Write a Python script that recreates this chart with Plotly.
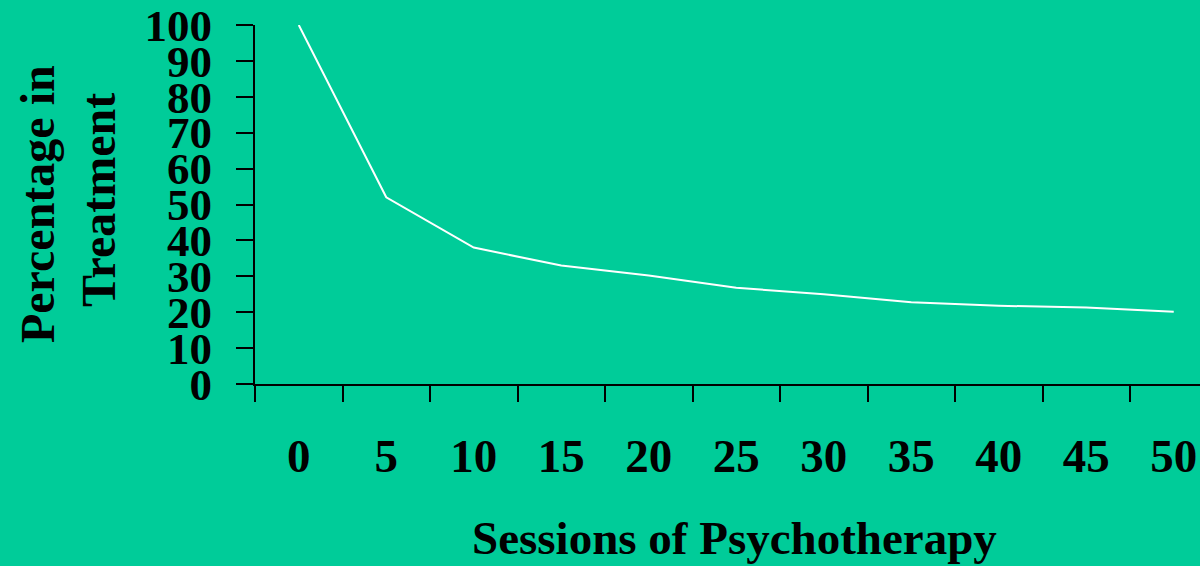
import plotly.graph_objects as go

sessions = ["0", "5", "10", "15", "20", "25", "30", "35", "40", "45", "50"]
pct_in_treatment = [100, 52, 38, 33, 30.2, 26.8, 25.0, 22.8, 21.8, 21.3, 20.1]
y_ticks = [0, 10, 20, 30, 40, 50, 60, 70, 80, 90, 100]

BG = "#00CC99"
FONT = "Liberation Serif"

fig = go.Figure()
fig.add_trace(go.Scatter(
    x=sessions, y=pct_in_treatment, mode="lines",
    line=dict(color="white", width=2), showlegend=False, hoverinfo="skip"))

PL, PT, PW, PH = 255, 25, 945, 359

fig.update_layout(
    width=1200, height=566,
    paper_bgcolor=BG, plot_bgcolor=BG,
    margin=dict(l=PL, r=0, t=PT, b=566 - PT - PH),
    font=dict(family=FONT, color="black", weight="bold"),
    xaxis=dict(
        type="category", range=[-0.5, 10.3], tickson="boundaries",
        showline=True, linecolor="black", linewidth=2,
        ticks="outside", ticklen=16, tickwidth=2, tickcolor="black",
        showgrid=False, zeroline=False,
        tickfont=dict(family=FONT, size=47, color="black", weight="bold"),
        ticklabelstandoff=30,
    ),
    yaxis=dict(
        range=[0, 100], tickvals=y_ticks, ticktext=[str(v) for v in y_ticks],
        showline=True, linecolor="black", linewidth=2,
        ticks="outside", ticklen=17, tickwidth=2, tickcolor="black",
        showgrid=False, zeroline=False,
        tickfont=dict(family=FONT, size=45, color="black", weight="bold"),
        ticklabelstandoff=15,
    ),
    annotations=[
        dict(text="Sessions of Psychotherapy", xref="paper", yref="paper",
             x=(734 - PL) / PW, y=(PT + PH - 538) / PH,
             showarrow=False, xanchor="center", yanchor="middle",
             font=dict(family=FONT, size=47, color="black", weight="bold")),
        dict(text="Percentage in", xref="paper", yref="paper",
             x=(37 - PL) / PW, y=(PT + PH - 204) / PH, textangle=-90,
             showarrow=False, xanchor="center", yanchor="middle",
             font=dict(family=FONT, size=48, color="black", weight="bold")),
        dict(text="Treatment", xref="paper", yref="paper",
             x=(98 - PL) / PW, y=(PT + PH - 200) / PH, textangle=-90,
             showarrow=False, xanchor="center", yanchor="middle",
             font=dict(family=FONT, size=48, color="black", weight="bold")),
    ],
)

fig.write_html("out.html", config={"displayModeBar": False},
               post_script="document.body.style.margin='0';document.body.style.overflow='hidden';")
